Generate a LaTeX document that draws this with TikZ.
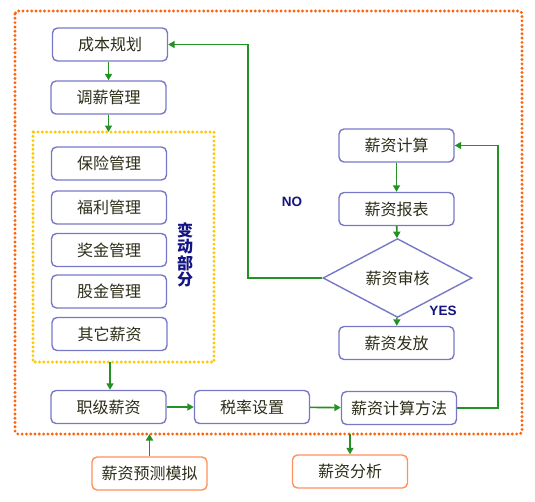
\documentclass[tikz,border=0pt]{standalone}
\usepackage{fontspec}
\setsansfont{Liberation Sans}
\newfontfamily\cjk{Noto Sans CJK SC}
\usetikzlibrary{shapes.geometric,arrows.meta}
\definecolor{boxblue}{RGB}{120,120,200}
\definecolor{boxorange}{RGB}{255,145,90}
\definecolor{flowgreen}{RGB}{35,145,35}
\definecolor{dotorange}{RGB}{255,100,10}
\definecolor{dotyellow}{RGB}{255,200,0}
\definecolor{txt}{RGB}{45,45,25}
\definecolor{navy}{RGB}{20,20,130}
\tikzset{
	box/.style={draw=boxblue, line width=1.4pt, rounded corners=5pt, minimum width=115pt, minimum height=33pt, inner sep=0pt, text=txt, font=\cjk\fontsize{16}{18}\selectfont},
	obox/.style={box, draw=boxorange},
	flow/.style={draw=flowgreen, line width=1.6pt, -{Triangle[length=6.5pt,width=7pt]}},
	dotline/.style={line width=3.2pt, line cap=round, dash pattern=on 0pt off 4.3pt}
}

\begin{document}
\begin{tikzpicture}[x=1pt,y=-1pt]
			%%%%% START %%%%%
			\useasboundingbox[fill=white] (0,0) rectangle (535,501);
			
			\draw[dotline, draw=dotorange, rounded corners=3pt] (15,11) rectangle (522,434);
			\draw[dotline, draw=dotyellow] (33,132) rectangle (214,362);
			\coordinate (vtop) at (108.5,132);
			\coordinate (vbot) at (110,362);
			\coordinate (fbot) at (0,434);
			
			\node[box] (plan) at (110,44.5) {成本规划};
			\node[box] (adjust) at (108.5,97.5) {调薪管理};
			
			\node[box] (insur) at (109,163.5) {保险管理};
			\node[box] (welfare) at (109,207.5) {福利管理};
			\node[box] (bonus) at (109,250) {奖金管理};
			\node[box] (stock) at (109,291.5) {股金管理};
			\node[box] (other) at (109.5,334) {其它薪资};
			\node[text=navy, align=center, font=\cjk\bfseries\fontsize{16}{16.5}\selectfont] (vary) at (185,255) {变\\动\\部\\分};
			
			\node[box] (calc) at (396.5,145.5) {薪资计算};
			\node[box] (report) at (396.5,209) {薪资报表};
			\node[draw=boxblue, line width=1.4pt, diamond, minimum width=149pt, minimum height=52pt, inner sep=0pt, text=txt, font=\cjk\fontsize{16}{18}\selectfont] (audit) at (397.5,278) {薪资审核};
			\node[box] (pay) at (396.5,343) {薪资发放};
			
			\node[box] (grade) at (108.5,407) {职级薪资};
			\node[box] (tax) at (252,407) {税率设置};
			\node[box] (method) at (399,408) {薪资计算方法};
			
			\node[obox] (sim) at (149.5,473.5) {薪资预测模拟};
			\node[obox] (anal) at (350,471.5) {薪资分析};
			
			\node[text=navy, font=\sffamily\bfseries\fontsize{13.5}{15}\selectfont] (no) at (292,202) {NO};
			\node[text=navy, font=\sffamily\bfseries\fontsize{13.5}{15}\selectfont] (yes) at (443,311) {YES};
			
			\coordinate (loopL) at (248,200);
			\coordinate (loopR) at (498,280);
			
			\draw[flow] (adjust.north |- plan.south) -- (adjust.north);
			\draw[flow] (adjust.south) -- (adjust.south |- vtop);
			\draw[flow] (vbot) -- (vbot |- grade.north);
			\draw[flow] (grade) -- (tax);
			\draw[flow] (tax) -- (method);
			\draw[flow] (method.east) -| (loopR) |- (calc.east);
			\draw[flow] (calc) -- (report);
			\draw[flow] (report) -- (audit);
			\draw[flow] (audit) -- (pay);
			\draw[flow] (audit.west) -| (loopL) |- (plan.east);
			\draw[flow] (sim.north) -- (sim.north |- fbot);
			\draw[flow] (anal.north |- fbot) -- (anal.north);
			%%%%% END %%%%%
\end{tikzpicture}
\end{document}
